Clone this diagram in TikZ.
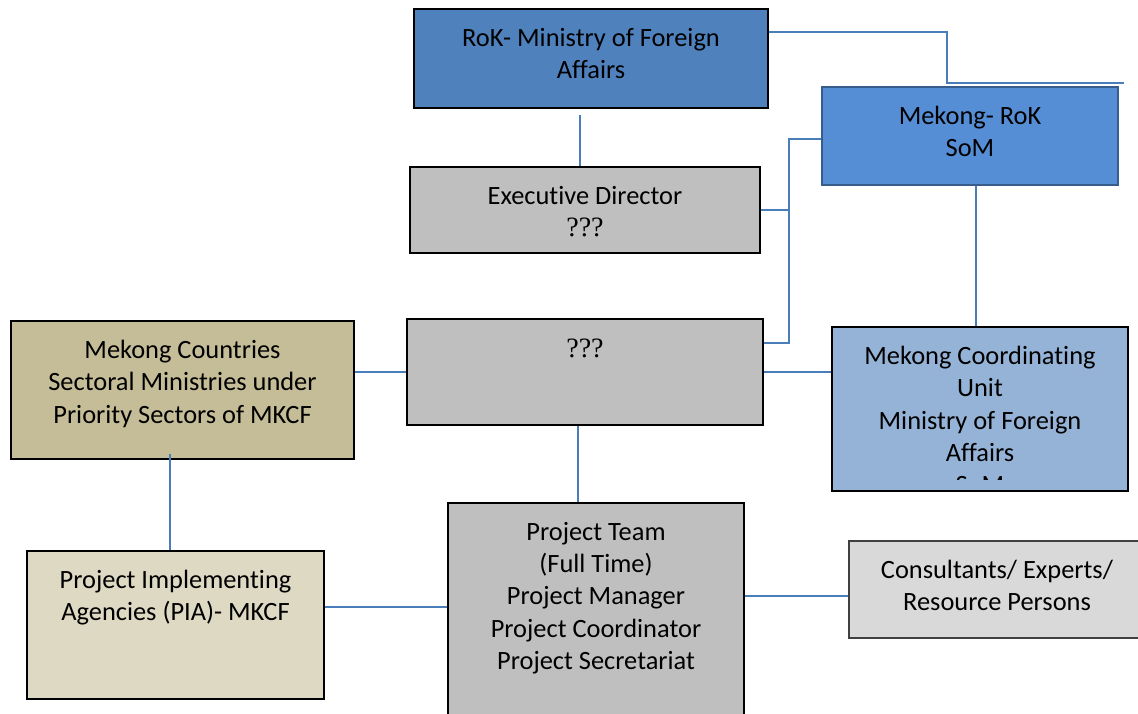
\documentclass[tikz,border=0pt]{standalone}
\usepackage{fontspec}
\newfontfamily\calfont[Ligatures=NoCommon]{Carlito}
\newfontfamily\qfont{Liberation Serif}
\definecolor{lnblue}{HTML}{4A7EBB}
\definecolor{rokblue}{HTML}{4F81BD}
\definecolor{rokline}{HTML}{385D8A}
\definecolor{somblue}{HTML}{558ED5}
\definecolor{mcublue}{HTML}{95B3D7}
\definecolor{midgray}{HTML}{BFBFBF}
\definecolor{ltgray}{HTML}{D9D9D9}
\definecolor{khaki}{HTML}{C4BD97}
\definecolor{ltkhaki}{HTML}{DDD9C3}

\begin{document}
\begin{tikzpicture}[x=1pt,y=-1pt,
		box/.style={draw=black,line width=2pt,rectangle,inner sep=0pt},
		lbl/.style={font=\fontsize{26.4}{32.3}\selectfont\calfont,align=center,inner sep=0pt,anchor=north},
		qq/.style={font=\fontsize{28}{32}\selectfont\qfont,inner sep=0pt,anchor=north},
		link/.style={draw=lnblue,line width=2pt}]
		\useasboundingbox (0,0) rectangle (1138,713);
		\clip (0,0) rectangle (1138,713);
		% boxes
		\node[box,fill=rokblue,minimum width=354pt,minimum height=99pt] (mofa) at (591,58.5) {};
		\node[box,draw=rokline,fill=somblue,minimum width=296pt,minimum height=98pt] (som) at (970,136) {};
		\node[box,fill=midgray,minimum width=350pt,minimum height=86pt] (exec) at (585,210) {};
		\node[box,fill=midgray,minimum width=356pt,minimum height=106pt] (unit) at (585,372) {};
		\node[box,fill=khaki,minimum width=343pt,minimum height=138pt] (mc) at (182.5,390) {};
		\node[box,fill=mcublue,minimum width=296pt,minimum height=164pt] (mcu) at (980,409) {};
		\node[box,fill=ltkhaki,minimum width=297pt,minimum height=148pt] (pia) at (175.5,625) {};
		\node[box,fill=midgray,minimum width=296pt,minimum height=227pt] (team) at (596,616.5) {};
		\node[box,draw=black!75,fill=ltgray,minimum width=299pt,minimum height=97pt] (cons) at (998.5,589.5) {};
		% texts
		\node[lbl] (mofa-t) at ([yshift=-20pt]mofa.north) {RoK- Ministry of Foreign\\Affairs};
		\node[lbl] (som-t) at ([yshift=-20pt]som.north) {Mekong- RoK\\SoM};
		\node[lbl] (exec-t) at ([yshift=-20pt]exec.north) {Executive Director};
		\node[qq] (exec-q) at ([yshift=-52pt]exec.north) {???};
		\node[qq] (unit-q) at ([yshift=-21pt]unit.north) {???};
		\node[lbl] (mc-t) at ([yshift=-20pt]mc.north) {Mekong Countries\\Sectoral Ministries under\\Priority Sectors of MKCF};
		\begin{scope}
			\clip (mcu.north west) rectangle ([yshift=13pt]mcu.south east);
			\node[lbl] (mcu-t) at ([yshift=-20pt]mcu.north) {Mekong Coordinating\\Unit\\Ministry of Foreign\\Affairs\\SoM};
		\end{scope}
		\node[lbl] (pia-t) at ([yshift=-20pt]pia.north) {Project Implementing\\Agencies (PIA)- MKCF};
		\node[lbl] (team-t) at ([yshift=-20pt]team.north) {Project Team\\(Full Time)\\Project Manager\\Project Coordinator\\Project Secretariat};
		\node[lbl] (cons-t) at ([xshift=-1.5pt,yshift=-20pt]cons.north) {Consultants/ Experts/\\Resource Persons};
		% connectors
		\coordinate (offR) at (1124,83);
		\coordinate (bend) at (789,139);
		\draw[link] ([yshift=-24pt]mofa.north east) -- ++(178,0) |- (offR);
		\draw[link] ([xshift=-11pt,yshift=-6pt]mofa.south) -- ([xshift=-5pt]exec.north);
		\draw[link] ([yshift=-3pt]som.west) -- (bend) |- ([yshift=29pt]unit.east);
		\draw[link] (exec.east) -- (exec.east -| bend);
		\draw[link] ([xshift=6pt]som.south) -- ([xshift=-4pt]mcu.north);
		\draw[link] (unit.east) -- (unit.east -| mcu.west);
		\draw[link] (unit.west) -- (unit.west -| mc.east);
		\draw[link] ([xshift=-12.5pt,yshift=6pt]mc.south) -- ([xshift=-5.5pt]pia.north);
		\draw[link] ([xshift=-7pt]unit.south) -- ([xshift=-18pt]team.north);
		\draw[link] ([yshift=18pt]pia.east) -- ([yshift=18pt]pia.east -| team.west);
		\draw[link] ([yshift=-6.5pt]cons.west) -- ([yshift=-6.5pt]cons.west -| team.east);
	\end{tikzpicture}
\end{document}
